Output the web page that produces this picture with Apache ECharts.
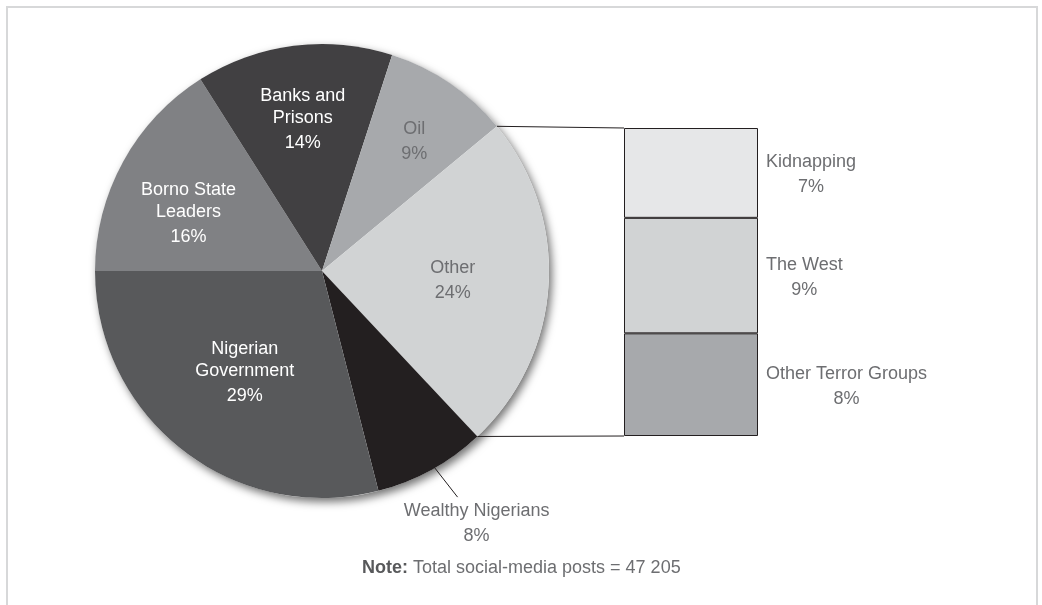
<!DOCTYPE html>
<html><head><meta charset="utf-8">
<script src="https://cdn.jsdelivr.net/npm/echarts@6/dist/echarts.min.js"></script>
<style>html,body{margin:0;padding:0;background:#fff}#c{width:1042px;height:605px}</style>
</head><body><div id="c"></div>
<script>
// ---- data ----
const pieNames = ['Borno State\nLeaders', 'Banks and\nPrisons', 'Oil', 'Other', 'Wealthy Nigerians', 'Nigerian\nGovernment'];
const pieValues = [16, 14, 9, 24, 8, 29];
const barNames = ['Other Terror Groups', 'The West', 'Kidnapping'];
const barValues = [8, 9, 7];
const noteLabel = 'Note:';
const noteText = 'Total social-media posts = 47 205';

// ---- styles ----
const pieColors = ['#808184', '#414042', '#a7a9ac', '#d1d3d4', '#231f20', '#58595b'];
const pieTextColors = ['#ffffff', '#ffffff', '#6d6e71', '#6d6e71', '#6d6e71', '#ffffff'];
const labelDist = [146, 154, 160, 131, 0, 126];
const labelShift = [5, 0, -1, 0, 0, 0];
const barColors = ['#a7a9ac', '#d1d3d4', '#e6e7e8'];
const CX = 322, CY = 271, R = 227;
const FONT = '"Liberation Sans", Arial, Helvetica, sans-serif';
const FS = 18;
const GRID = {left: 624, top: 128, width: 134, height: 308};
const START = 180;

const total = pieValues.reduce((a, b) => a + b, 0);
const angles = [];
(function () {
  let acc = 0;
  pieValues.forEach(v => {
    const a0 = START - acc / total * 360; acc += v;
    const a1 = START - acc / total * 360;
    angles.push([a0, a1]);
  });
})();
function polar(d, deg) {
  const r = deg * Math.PI / 180;
  return [CX + d * Math.cos(r), CY - d * Math.sin(r)];
}
const leadLen = 37, leadAng = -52;
function leaderPts(i) {
  const mid = (angles[i][0] + angles[i][1]) / 2 + 1;
  const s = polar(R, mid);
  const r = leadAng * Math.PI / 180;
  const e = [s[0] + leadLen * Math.cos(r), s[1] - leadLen * Math.sin(r)];
  return [s, e];
}

const chart = echarts.init(document.getElementById('c'), null, {renderer: 'canvas'});

const pieData = pieValues.map((v, i) => {
  const item = {
    value: v, name: pieNames[i],
    itemStyle: {color: pieColors[i]},
    label: {color: pieTextColors[i]}
  };
  if (i === 4) {
    item.label.position = 'outside';
  }
  return item;
});

const barSeries = barValues.map((v, i) => ({
  type: 'bar', name: barNames[i], stack: 'b', barWidth: '100%',
  data: [v],
  itemStyle: {color: barColors[i], borderColor: '#231f20', borderWidth: 1},
  label: {
    show: true, position: 'right', distance: 8, offset: [0, 3],
    formatter: () => '{n|' + barNames[i] + '}\n{p|' + v + '%}',
    color: '#6d6e71', fontFamily: FONT, fontSize: FS,
    rich: {n: {align: 'center', lineHeight: 22}, p: {align: 'center', lineHeight: 28}}
  },
  emphasis: {disabled: true},
  silent: true
}));

chart.setOption({
  animation: false,
  backgroundColor: '#ffffff',
  title: {
    text: '{b|' + noteLabel + '} ' + noteText,
    left: 357, top: 552,
    textStyle: {
      fontFamily: FONT, fontSize: FS, fontWeight: 'normal', color: '#6d6e71', lineHeight: 22,
      rich: {b: {fontFamily: FONT, fontSize: FS, fontWeight: 'bold', color: '#58595b', lineHeight: 22}}
    }
  },
  grid: GRID,
  xAxis: {type: 'category', data: ['bar'], show: false},
  yAxis: {type: 'value', min: 0, max: 24, show: false},
  series: [
    {
      type: 'pie', z: 1, silent: true, center: [CX, CY], radius: R,
      data: [{value: total, itemStyle: {color: '#ffffff', shadowBlur: 9, shadowOffsetX: 3, shadowOffsetY: 4, shadowColor: 'rgba(0,0,0,0.55)'}}],
      label: {show: false}, labelLine: {show: false}, emphasis: {disabled: true}
    },
    {
      type: 'pie', z: 2, silent: true, center: [CX, CY], radius: R,
      startAngle: START, clockwise: true, avoidLabelOverlap: false,
      data: pieData,
      itemStyle: {borderWidth: 0},
      label: {
        show: true, position: 'inside', fontFamily: FONT, fontSize: FS,
        formatter: p => '{n|' + p.name + '}\n{p|' + p.value + '%}',
        rich: {n: {align: 'center', lineHeight: 22}, p: {align: 'center', lineHeight: 28}}
      },
      labelLine: {show: false},
      labelLayout: function (p) {
        const i = p.dataIndex;
        if (i === 4) {
          const e = leaderPts(4)[1];
          return {x: e[0] + 19, y: e[1] + 3, align: 'center', verticalAlign: 'top'};
        }
        const mid = (angles[i][0] + angles[i][1]) / 2 + labelShift[i];
        const pt = polar(labelDist[i], mid);
        return {x: pt[0], y: pt[1] + 3, align: 'center', verticalAlign: 'middle'};
      },
      emphasis: {disabled: true}
    },
    ...barSeries
  ]
});

// connectors, leader line and frame
const otherIdx = 3;
const pTop = polar(R, angles[otherIdx][0]);
const pBot = polar(R, angles[otherIdx][1]);
const yTop = chart.convertToPixel({yAxisIndex: 0}, barValues.reduce((a, b) => a + b, 0));
const yBot = chart.convertToPixel({yAxisIndex: 0}, 0);
const xC = chart.convertToPixel({xAxisIndex: 0}, 'bar');
const xLeft = xC - GRID.width / 2;
const lead = leaderPts(4);
const lineStyle = {stroke: '#231f20', lineWidth: 1};
chart.setOption({
  graphic: [
    {type: 'line', silent: true, z: 10, shape: {x1: pTop[0], y1: pTop[1], x2: xLeft, y2: yTop}, style: lineStyle},
    {type: 'line', silent: true, z: 10, shape: {x1: pBot[0], y1: pBot[1], x2: xLeft, y2: yBot}, style: lineStyle},
    {type: 'line', silent: true, z: 10, shape: {x1: lead[0][0], y1: lead[0][1], x2: lead[1][0], y2: lead[1][1]}, style: lineStyle},
    {type: 'polyline', silent: true, z: 10, shape: {points: [[7, 605], [7, 7], [1037, 7], [1037, 605]]}, style: {stroke: '#d7d8d9', lineWidth: 2, fill: null}}
  ]
});
</script>
</body></html>
